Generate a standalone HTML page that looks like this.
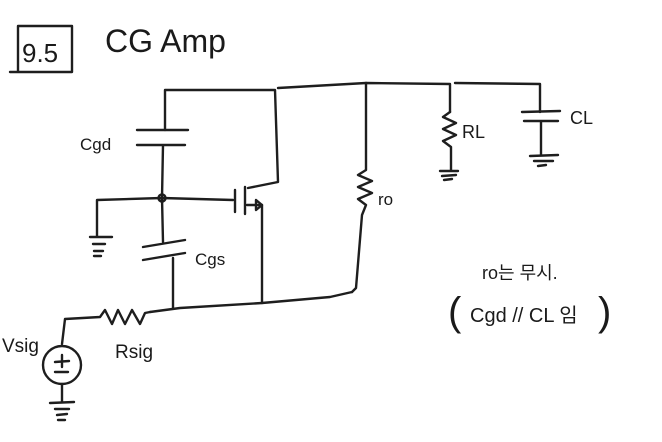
<!DOCTYPE html>
<html><head><meta charset="utf-8"><style>
html,body{margin:0;padding:0;background:#fff;}
svg{display:block;}
text{font-family:"Liberation Sans","Noto Sans CJK KR",sans-serif;fill:#1a1a1a;}
</style></head><body>
<svg width="662" height="442" viewBox="0 0 662 442" xmlns="http://www.w3.org/2000/svg">
<g fill="none" stroke="#1e1e1e" stroke-width="2.4" stroke-linecap="round" stroke-linejoin="round">
<path d="M18 26 L72 26 L72 72 L10 72 M18 26 L18 72"/>
<path d="M165 130 L165 90 L275 90 L278 182 L248 188"/>
<path d="M278 88 L366 83 L450 84 L450 112"/>
<path d="M455 83 L540 84 L540 112"/>
<path d="M137 130 L188 130 M137 145 L185 145 M163 145 L162 198"/>
<circle cx="162" cy="198" r="3.5"/>
<path d="M97 236 L97 200 L162 198 L233 200"/>
<path d="M90 237 L112 237 M93 244 L105 244 M94 251 L103 251 M94 256 L101 256"/>
<path d="M235 190 L235 212 M245 187 L245 214 M247 205 L262 205 L262 303"/>
<path d="M256 200 L262 205 L256 210 Z"/>
<path d="M162 198 L163 242 M143 247 L185 240 M143 260 L185 253 M173 258 L173 308"/>
<path d="M150 312 L180 308 L262 303 L330 297 L352 292"/>
<path d="M366 83 L366 170 L358 175 L372 181 L358 187 L372 193 L358 199 L366 205 L362 215 L356 288 L352 292"/>
<path d="M450 112 L443 117 L456 123 L443 129 L456 135 L443 141 L451 147 L451 170"/>
<path d="M440 171 L458 171 M442 176 L456 175 M444 180 L452 179"/>
<path d="M522 112 L560 111 M524 121 L558 121 M541 121 L541 155"/>
<path d="M530 156 L558 155 M534 161 L553 161 M538 166 L546 165"/>
<path d="M62 344 L65 319 L100 317 L105 310 L112 324 L118 310 L125 324 L132 310 L140 324 L145 313 L150 312"/>
<circle cx="62" cy="365" r="19"/>
<path d="M55 362 L69 361 M62 355 L62 367 M55 372 L68 372 M62 384 L62 402"/>
<path d="M50 403 L74 402 M55 409 L69 409 M57 415 L67 414 M58 420 L65 420"/>
</g>
<text x="22" y="62" font-size="26">9.5</text>
<text x="105" y="52" font-size="32">CG Amp</text>
<text x="80" y="150" font-size="17">Cgd</text>
<text x="195" y="265" font-size="17">Cgs</text>
<text x="378" y="205" font-size="17">ro</text>
<text x="462" y="138" font-size="18">RL</text>
<text x="570" y="124" font-size="18">CL</text>
<text x="115" y="358" font-size="19">Rsig</text>
<text x="2" y="352" font-size="19">Vsig</text>
<text x="482" y="279" font-size="18">ro는 무시.</text>
<text x="448" y="325" font-size="40" font-weight="300">(</text>
<text x="470" y="322" font-size="20">Cgd // CL 임</text>
<text x="598" y="325" font-size="40" font-weight="300">)</text>
</svg>
</body></html>
